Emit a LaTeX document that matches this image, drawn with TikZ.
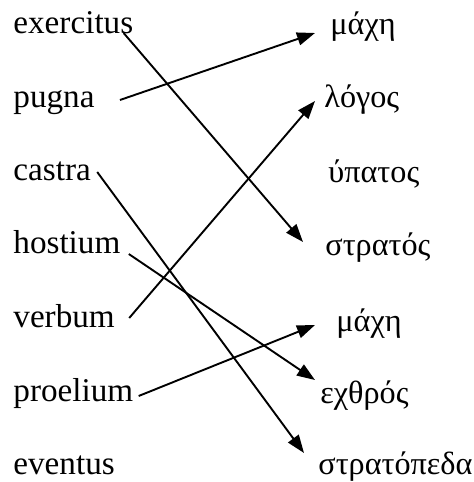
\documentclass[tikz,border=0pt]{standalone}
\usepackage{fontspec}
\setmainfont{Liberation Serif}
\usepackage{tikz}
\usetikzlibrary{arrows.meta}

\begin{document}
\begin{tikzpicture}[x=0.5pt, y=-0.5pt, >={Triangle[length=9pt, width=6.5pt]},
    font=\fontsize{16.6}{19}\selectfont,
    word/.style={inner sep=0pt, anchor=base west},
    greek/.style={word, font=\fontsize{16.1}{19}\selectfont},
    match/.style={->, line width=0.95pt, black}]

    \useasboundingbox (0,0) rectangle (473,482);

    % 1. Latin words (left column)
    \node[word] (exercitus) at (13, 33) {exercitus};
    \node[word] (pugna)     at (13,107) {pugna};
    \node[word] (castra)    at (13,180) {castra};
    \node[word] (hostium)   at (13,253) {hostium};
    \node[word] (verbum)    at (13,327) {verbum};
    \node[word] (proelium)  at (13,401) {proelium};
    \node[word] (eventus)   at (13,474) {eventus};

    % 2. Greek words (right column)
    \node[greek] (mache)      at (330, 34) {μάχη};
    \node[greek] (logos)      at (324,107) {λόγος};
    \node[greek] (hypatos)    at (328,182) {ύπατος};
    \node[greek] (stratos)    at (325,255) {στρατός};
    \node[greek] (machetwo)   at (336,331) {μάχη};
    \node[greek] (echthros)   at (320,403) {εχθρός};
    \node[greek] (stratopeda) at (318,474) {στρατόπεδα};

    % 3. Matching arrows
    \draw[match] ([shift={(-10,0)}]exercitus.base east) -- ([shift={(-22,-13)}]stratos.base west);
    \draw[match] ([shift={(25,-7)}]pugna.base east)     -- ([shift={(-15,-1)}]mache.base west);
    \draw[match] ([shift={(6,-8)}]castra.base east)     -- ([shift={(-14,-21)}]stratopeda.base west);
    \draw[match] ([shift={(8,1)}]hostium.base east)     -- ([shift={(-5,-23)}]echthros.base west);
    \draw[match] ([shift={(14,-9)}]verbum.base east)    -- ([shift={(-9,-6)}]logos.base west);
    \draw[match] ([shift={(5,-5)}]proelium.base east)   -- ([shift={(-21,-6)}]machetwo.base west);

\end{tikzpicture}
\end{document}
